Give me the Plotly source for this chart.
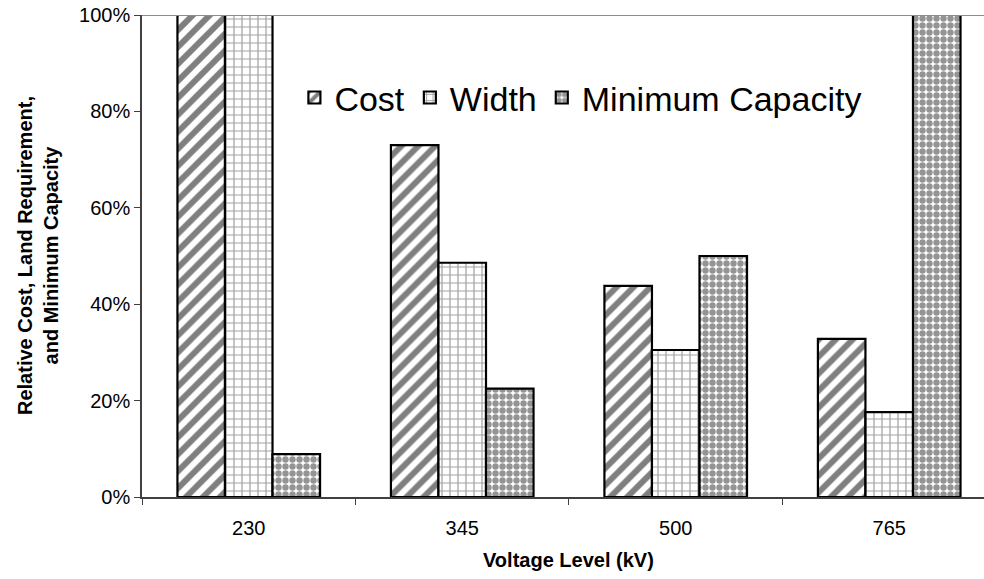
import plotly.graph_objects as go

categories = ["230", "345", "500", "765"]
cost = [1.00, 0.73, 0.438, 0.328]
width = [1.00, 0.486, 0.305, 0.176]
min_capacity = [0.089, 0.225, 0.50, 1.00]

FONT = "Liberation Sans, Arial, sans-serif"

fig = go.Figure()
fig.add_bar(name="Cost", x=categories, y=cost,
            marker=dict(color="white", line=dict(color="black", width=2.2),
                        pattern=dict(shape="/", fgcolor="#000000", bgcolor="white",
                                     size=12, solidity=0.5)))
fig.add_bar(name="Width", x=categories, y=width,
            marker=dict(color="white", line=dict(color="black", width=2.2),
                        pattern=dict(shape="+", fgcolor="#444444", bgcolor="white",
                                     size=8, solidity=0.28)))
fig.add_bar(name="Minimum Capacity", x=categories, y=min_capacity,
            marker=dict(color="white", line=dict(color="black", width=2.2),
                        pattern=dict(shape=".", fgcolor="#2a2a2a", bgcolor="white",
                                     size=7, solidity=0.65)))

fig.update_layout(
    width=984, height=579,
    margin=dict(l=142, r=0, t=15, b=82),
    paper_bgcolor="white", plot_bgcolor="white",
    font=dict(family=FONT, size=20, color="black"),
    barmode="group", bargap=0.332, bargroupgap=0,
    showlegend=True,
    legend=dict(orientation="h", x=0.181, y=0.828, xanchor="left", yanchor="middle",
                font=dict(size=34), bgcolor="rgba(0,0,0,0)", itemwidth=30,
                tracegroupgap=0),
)
fig.update_xaxes(
    type="category", range=[-0.5, 3.444], automargin=False,
    showline=True, linecolor="#404040", linewidth=1.5,
    ticks="outside", tickson="boundaries", ticklen=6, tickcolor="#404040",
    showgrid=False, tickfont=dict(size=20), ticklabelstandoff=12,
    ticklabeloverflow="allow",
)
fig.update_yaxes(
    range=[0, 1], dtick=0.2, tickformat=".0%", automargin=False,
    showline=True, linecolor="#404040", linewidth=1.5,
    ticks="outside", ticklen=6, tickcolor="#404040",
    showgrid=False, tickfont=dict(size=20), ticklabeloverflow="allow",
)
fig.add_shape(type="line", xref="paper", yref="y", x0=0, x1=1, y0=1, y1=1,
              line=dict(color="#8c8c8c", width=2))
fig.add_annotation(text="<b>Relative Cost, Land Requirement,<br>and Minimum Capacity</b>",
                   xref="paper", yref="paper", x=0, y=0.5, xshift=-104,
                   xanchor="center", yanchor="middle", textangle=-90,
                   showarrow=False, font=dict(size=20))
fig.add_annotation(text="<b>Voltage Level (kV)</b>", xref="x", yref="paper",
                   x=1.5, y=0, yshift=-63, yanchor="middle",
                   showarrow=False, font=dict(size=20))

fig.write_html("out.html", config={"displayModeBar": False},
               post_script="document.body.style.margin='0';document.body.style.overflow='hidden';")
